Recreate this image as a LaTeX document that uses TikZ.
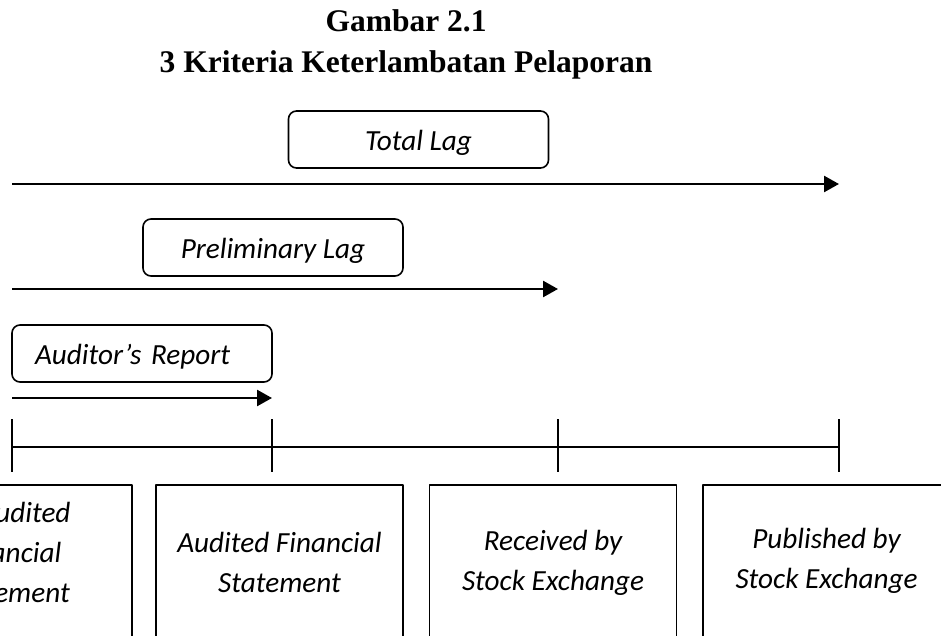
\documentclass[tikz,border=0pt]{standalone}
\usepackage{fontspec}
\setmainfont{Liberation Serif}
\newfontfamily\carlito{Carlito}
\usetikzlibrary{arrows.meta}
\begin{document}
\begin{tikzpicture}[x=1pt, y=-1pt, line join=round,
	lagfont/.style={font={\carlito\itshape\fontsize{29.2}{40}\selectfont}},
	lagbox/.style={draw, line width=1.6pt, rounded corners=8pt, minimum width=260pt, inner ysep=12.5pt, text height=27pt, text depth=5pt, lagfont},
	evbox/.style={draw, line width=1.6pt, minimum width=247pt, minimum height=200pt, anchor=north},
	evtext/.style={lagfont, align=center, anchor=north, inner sep=0pt},
	lagarrow/.style={line width=2.6pt, -{Triangle[length=15pt,width=16pt]}},
	axis/.style={line width=2pt},
	title/.style={font={\bfseries\fontsize{31.5}{40}\selectfont}, anchor=base}]
		\useasboundingbox (0,0) rectangle (941,636);
		\clip (0,0) rectangle (941,636);
		\node[title] (title1) at (406,32) {Gambar 2.1};
		\node[title] (title2) at (406,73) {3 Kriteria Keterlambatan Pelaporan};
		\path
		(12,447) coordinate (t0)
		(272,447) coordinate (t1)
		(558,447) coordinate (t2)
		(839,447) coordinate (t3);
		% lags
		\node[lagbox] (total) at (418.5,139.5) {Total Lag};
		\node[lagbox] (prelim) at (273,247.5) {Preliminary Lag};
		\node[lagbox, align=left, text width=214pt, inner xsep=23pt] (auditor) at (142,353.5) {Auditor’s Report};
		\foreach \y/\e in {184/t3, 289/t2, 398/t1}
		\draw[lagarrow] (t0 |- 0,\y) -- (\e |- 0,\y);
		% time line
		\draw[axis] (t0)--(t3);
		\foreach \t in {t0,t1,t2,t3}
		\draw[axis] ([yshift=28pt]\t) -- ([yshift=-25pt]\t);
		\foreach \n/\x in {ev0/8.5, ev1/279.5, ev2/553, ev3/826.5}
		\node[evbox] (\n) at (\x,484) {};
		\node[evtext] (ev0txt) at ([yshift=-18pt]ev0.north) {Unaudited\\Financial\\Statement};
		\node[evtext] (ev1txt) at ([yshift=-48pt]ev1.north) {Audited Financial\\Statement};
		\node[evtext] (ev2txt) at ([yshift=-46pt]ev2.north) {Received by\\Stock Exchange};
		\node[evtext] (ev3txt) at ([yshift=-44pt]ev3.north) {Published by\\Stock Exchange};
\end{tikzpicture}
\end{document}
